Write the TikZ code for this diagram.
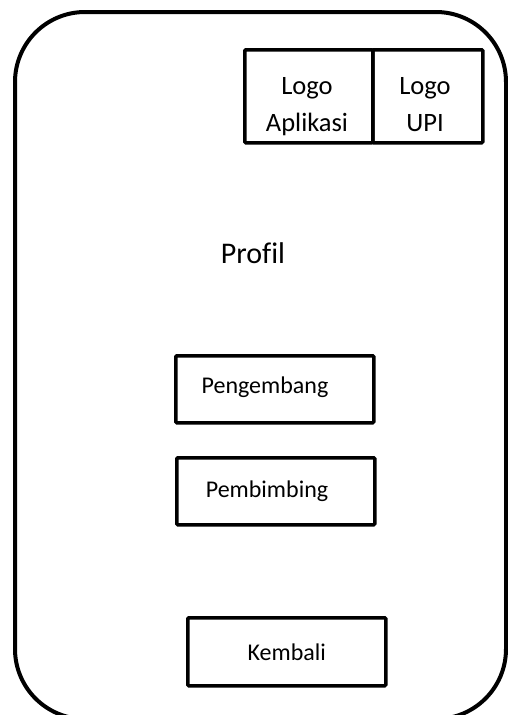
\documentclass[tikz,border=0pt]{standalone}
\usepackage{fontspec}
\setmainfont{Carlito}[Ligatures=CommonOff]
\begin{document}
\begin{tikzpicture}[x=1pt,y=-1pt,
  box/.style={draw=black,line width=3.5pt,rounded corners=1pt,inner sep=0pt,
    font=\fontsize{24}{29}\selectfont,align=center,anchor=north west},
  logotxt/.style={inner sep=0pt,align=center,anchor=north,font=\fontsize{26.5}{37}\selectfont},
  txt/.style={inner sep=0pt,font=\fontsize{24}{29}\selectfont}]
\useasboundingbox (0,0) rectangle (508,715);
\begin{scope}
\clip (0,0) rectangle (508,715);
\draw[line width=4pt,rounded corners=70pt] (15,12) rectangle (506,719);
\end{scope}
\node[box,minimum width=128pt,minimum height=93pt] (app) at (243,48) {};
\node[box,minimum width=110pt,minimum height=93pt] (upi) at (371,48) {};
\node[logotxt] (appt) at (307,77) {Logo\\Aplikasi};
\node[logotxt] (upit) at (425,77) {Logo\\UPI};
\node[txt,font=\fontsize{30}{36}\selectfont] (profil) at (253,253) {Profil};
\node[box,minimum width=198pt,minimum height=67pt] (peng) at (174,354) {};
\node[txt] (pengt) at (265,387) {Pengembang};
\node[box,minimum width=198pt,minimum height=67pt] (pemb) at (175,456) {};
\node[txt] (pembt) at (267,491) {Pembimbing};
\node[box,minimum width=198pt,minimum height=68pt] (kemb) at (186,616) {Kembali};
\end{tikzpicture}
\end{document}
